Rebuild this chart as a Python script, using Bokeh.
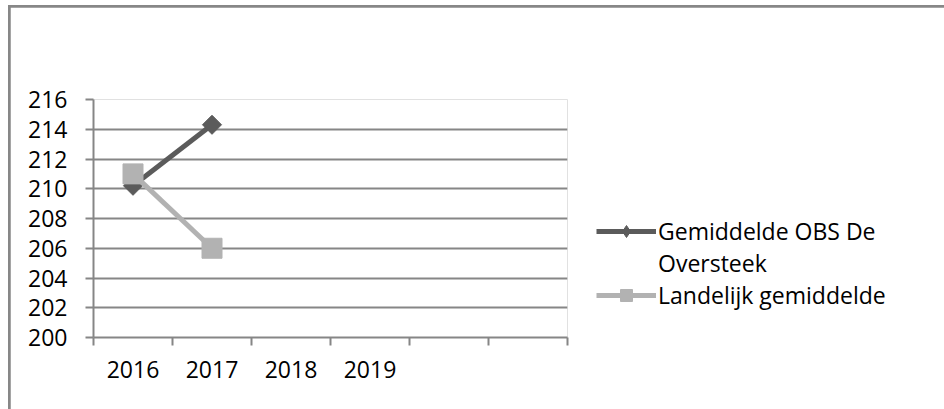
from bokeh.plotting import figure
from bokeh.layouts import column
from bokeh.models import Range1d, FixedTicker, Legend, LegendItem
from bokeh.embed import file_html
from bokeh.resources import INLINE

# ---- data ----
categories = ["2016", "2017", "2018", "2019", "", ""]
series1_label_lines = ["Gemiddelde OBS De", "Oversteek"]
series1_values = [210.2, 214.3]
series2_label = "Landelijk gemiddelde"
series2_values = [211.0, 206.0]
y_ticks = [200, 202, 204, 206, 208, 210, 212, 214, 216]

FONT = "Open Sans"
GRID = "#868686"
DARK = "#5b5b5b"
LIGHT = "#b2b2b2"

p = figure(width=936, height=404, frame_width=474, frame_height=238,
           min_border_left=83, min_border_top=92, min_border_bottom=72,
           min_border_right=377, output_backend="svg", toolbar_location=None,
           x_range=Range1d(0, len(categories)), y_range=Range1d(200, 216),
           margin=(2, 0, 0, 2))
p.outline_line_color = None
p.background_fill_color = "white"
p.border_fill_color = "white"

# category centres
x1 = [i + 0.5 for i in range(len(series1_values))]
x2 = [i + 0.5 for i in range(len(series2_values))]

l1 = p.line(x1, series1_values, line_color=DARK, line_width=5)
# diamond used for the legend; fully covered by the rotated square in the plot
m1_leg = p.scatter(x1, series1_values, marker="diamond", size=17,
                   fill_color=DARK, line_color=DARK)
m1 = p.scatter(x1, series1_values, marker="square", angle=0.785398, size=13.5,
               fill_color=DARK, line_color=DARK)
l2 = p.line(x2, series2_values, line_color=LIGHT, line_width=5)
m2 = p.scatter(x2, series2_values, marker="square", size=20,
               fill_color=LIGHT, line_color=LIGHT)

blank = p.line(x=[], y=[], line_alpha=0)

# x axis: labels at category centres, ticks at boundaries
xa = p.xaxis[0]
xa.ticker = FixedTicker(ticks=[i + 0.5 for i in range(len(categories))],
                        minor_ticks=list(range(len(categories) + 1)))
xa.major_label_overrides = {i + 0.5: c for i, c in enumerate(categories)}
xa.major_tick_out = 0
xa.major_tick_in = 0
xa.minor_tick_out = 8
xa.minor_tick_in = 0
xa.minor_tick_line_color = GRID
xa.minor_tick_line_width = 2
xa.axis_line_color = GRID
xa.axis_line_width = 2
xa.major_label_text_font = FONT
xa.major_label_text_font_size = "23px"
xa.major_label_text_color = "black"
xa.major_label_standoff = 15

ya = p.yaxis[0]
ya.ticker = FixedTicker(ticks=y_ticks)
ya.minor_tick_line_color = None
ya.major_tick_out = 8
ya.major_tick_in = 0
ya.major_tick_line_color = GRID
ya.major_tick_line_width = 2
ya.axis_line_color = GRID
ya.axis_line_width = 2
ya.major_label_text_font = FONT
ya.major_label_text_font_size = "23px"
ya.major_label_text_color = "black"
ya.major_label_standoff = 18

p.xgrid.grid_line_color = None
p.ygrid.ticker = FixedTicker(ticks=y_ticks)
p.ygrid.grid_line_color = GRID
p.ygrid.grid_line_width = 2

legend = Legend(items=[LegendItem(label=series1_label_lines[0], renderers=[l1, m1_leg]),
                       LegendItem(label=series1_label_lines[1], renderers=[blank]),
                       LegendItem(label=series2_label, renderers=[l2, m2])],
                location=(29, 26), orientation="vertical")
legend.border_line_color = None
legend.background_fill_alpha = 0
legend.margin = 0
legend.padding = 0
legend.spacing = 0
legend.glyph_width = 60
legend.glyph_height = 30
legend.label_height = 29
legend.label_standoff = 2
legend.label_text_font = FONT
legend.label_text_font_size = "23px"
legend.label_text_color = "black"
p.add_layout(legend, "right")

# chart-area frame: grey strip showing through the figure's 2px margin
layout = column(p, margin=(5, 0, 0, 8), styles={"background-color": "#878787"})

open("out.html", "w").write(file_html(layout, INLINE))
